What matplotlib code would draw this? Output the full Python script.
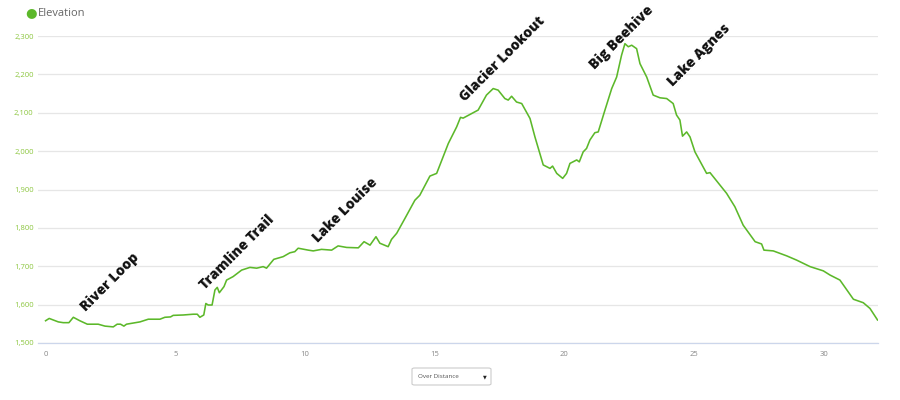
import matplotlib.pyplot as plt
from matplotlib.patches import FancyBboxPatch
from matplotlib.ticker import FuncFormatter

# elevation profile (km, m)
dist = [0.0, 0.14, 0.49, 0.68, 0.9, 1.07, 1.32, 1.61, 2.03, 2.29, 2.61, 2.76, 2.89,
        3.02, 3.12, 3.64, 3.96, 4.41, 4.6, 4.82, 4.92, 5.31, 5.69, 5.85, 5.95, 6.1,
        6.18, 6.27, 6.42, 6.53, 6.62, 6.7, 6.88, 6.98, 7.23, 7.56, 7.88, 8.14, 8.39,
        8.52, 8.8, 9.16, 9.42, 9.61, 9.74, 10.13, 10.32, 10.64, 11.03, 11.28, 11.61,
        12.06, 12.28, 12.51, 12.74, 12.89, 13.21, 13.34, 13.54, 13.86, 14.24, 14.43,
        14.82, 15.08, 15.53, 15.85, 16.0, 16.1, 16.68, 17.0, 17.26, 17.45, 17.71,
        17.84, 17.97, 18.16, 18.36, 18.68, 18.87, 19.19, 19.45, 19.55, 19.71, 19.94,
        20.09, 20.22, 20.48, 20.58, 20.73, 20.86, 20.99, 21.18, 21.31, 21.57, 21.83,
        22.02, 22.21, 22.34, 22.47, 22.6, 22.79, 22.92, 23.18, 23.43, 23.69, 23.95,
        24.2, 24.33, 24.46, 24.56, 24.72, 24.85, 25.04, 25.49, 25.62, 26.26, 26.58,
        26.9, 27.36, 27.61, 27.7, 28.06, 28.58, 28.96, 29.48, 29.99, 30.25, 30.63,
        31.15, 31.53, 31.79, 32.08]
elev = [1558, 1564, 1555, 1553, 1553, 1567, 1558, 1549, 1549, 1544, 1542, 1549, 1549,
        1544, 1549, 1555, 1562, 1562, 1567, 1568, 1572, 1573, 1575, 1575, 1567, 1573,
        1603, 1599, 1599, 1638, 1645, 1631, 1647, 1664, 1673, 1690, 1697, 1695, 1699,
        1695, 1718, 1725, 1735, 1738, 1747, 1742, 1740, 1744, 1742, 1753, 1749,
        1748, 1764, 1755, 1777, 1760, 1751, 1770, 1786, 1825, 1872, 1885,
        1935, 1942, 2020, 2063, 2088, 2086, 2107, 2146, 2163, 2159, 2137,
        2133, 2143, 2128, 2124, 2085, 2037, 1964, 1955, 1961, 1942, 1929,
        1942, 1968, 1977, 1972, 1998, 2007, 2029, 2048, 2050, 2107, 2163,
        2193, 2250, 2280, 2272, 2276, 2267, 2228, 2193, 2146, 2139, 2137,
        2124, 2094, 2081, 2039, 2050, 2037, 1998, 1942, 1944, 1890, 1855,
        1807, 1764, 1758, 1742, 1740, 1727, 1716, 1699, 1688, 1677, 1664,
        1614, 1605, 1590, 1560]

# place names and where their text starts
names = ['River Loop', 'Tramline Trail', 'Lake Louise', 'Glacier Lookout', 'Big Beehive', 'Lake Agnes']
name_x = [1.54, 6.13, 10.52, 16.18, 21.18, 24.2]
name_y = [1581, 1638, 1760, 2128, 2212, 2168]

green = '#5cb82a'

plt.rcParams['font.family'] = ['Open Sans', 'DejaVu Sans']

fig = plt.figure(figsize=(9, 4), dpi=100)
ax = fig.add_axes([0.042, 0.1425, 0.9336, 0.7675])

ax.plot(dist, elev, color=green, lw=1.15, solid_joinstyle='round', zorder=3)

for nm, x, y in zip(names, name_x, name_y):
    ax.text(x, y, nm, rotation=45, rotation_mode='anchor', ha='left', va='baseline',
            fontsize=10, fontweight='heavy', color='#111111', zorder=4)

ax.set_xlim(-0.3, 32.1)
ax.set_ylim(1500, 2300)
ax.set_xticks(range(0, 31, 5))
ax.set_yticks(range(1500, 2301, 100))
ax.yaxis.set_major_formatter(FuncFormatter(lambda v, p: f'{int(v):,}'))
ax.grid(axis='y', color='#e6e6e6', lw=0.9)
ax.set_axisbelow(True)
for s in ['top', 'right', 'left']:
    ax.spines[s].set_visible(False)
ax.spines['bottom'].set_color('#ccd6eb')
ax.spines['bottom'].set_linewidth(0.9)
ax.tick_params(axis='y', length=0, labelsize=5.5, labelcolor='#8cc63f', pad=3)
ax.tick_params(axis='x', length=0, labelsize=5.5, labelcolor='#888888', pad=6)

# legend
fig.text(31 / 900, 1 - 13 / 400, '\u25cf', color=green, fontsize=9.5, ha='center', va='center',
         family=['DejaVu Sans'])
fig.text(38 / 900, 1 - 13 / 400, 'Elevation', color='#666666', fontsize=8, ha='left', va='center')

# dropdown box under the chart
box = FancyBboxPatch((412 / 900, 1 - 385 / 400), 79 / 900, 17 / 400,
                     boxstyle='round,pad=0,rounding_size=0.003', transform=fig.transFigure,
                     facecolor='white', edgecolor='#cccccc', lw=0.8)
fig.patches.append(box)
fig.text(418 / 900, 1 - 376.5 / 400, 'Over Distance', color='#555555', fontsize=4.5,
         ha='left', va='center')
fig.text(485 / 900, 1 - 376.5 / 400, '\u25bc', color='#222222', fontsize=3.5,
         ha='center', va='center', family=['DejaVu Sans'])

fig.savefig('out.png', dpi=100)
